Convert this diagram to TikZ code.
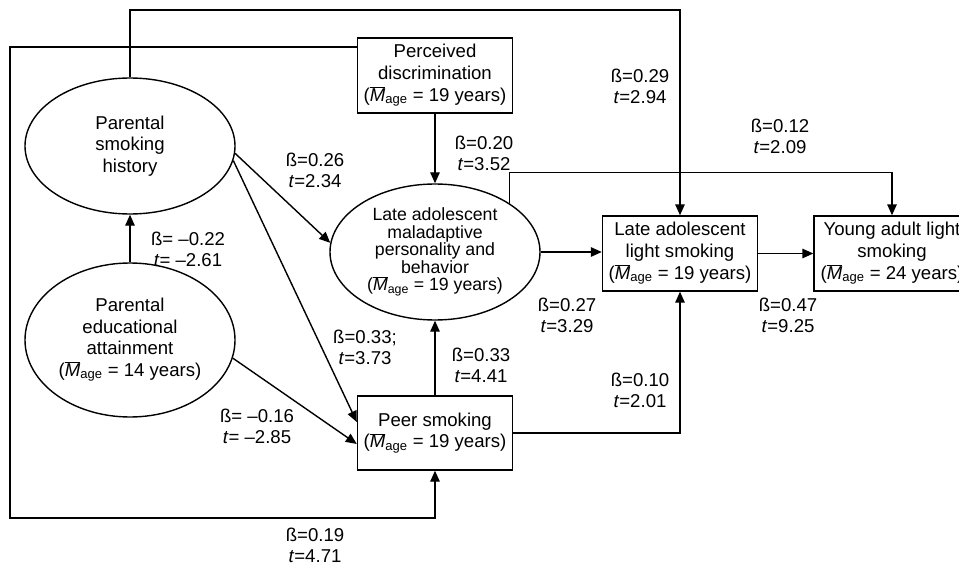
\documentclass[tikz,border=0pt]{standalone}
\usepackage{fontspec}
\setmainfont{Liberation Sans}
\usetikzlibrary{arrows.meta,shapes.geometric}
\newcommand{\mbar}{\ensuremath{\overline{\mbox{\itshape M}}}}
\newcommand{\agenote}[1]{(\mbar\textsubscript{age} = #1 years)}

\begin{document}
\begin{tikzpicture}[x=1pt,y=-1pt,
  box/.style={draw,line width=1.4pt,align=center,minimum width=155pt,minimum height=75pt,inner sep=2pt,font=\fontsize{18.6}{21.7}\selectfont},
  oval/.style={draw,ellipse,line width=1.4pt,align=center,minimum width=210pt,minimum height=136pt,inner sep=0pt,font=\fontsize{18.6}{21.5}\selectfont},
  coef/.style={align=center,inner sep=1pt,font=\fontsize{18.6}{21}\selectfont},
  arr/.style={-{Triangle[length=11pt,width=9.5pt]},line width=1.4pt}
]
\useasboundingbox (0,0) rectangle (959,567);
\node[oval] (hist) at (130,146) {Parental\\smoking\\history};
\node[oval,minimum height=154pt] (edu) at (130,340) {Parental\\educational\\attainment\\\agenote{14}};
\node[oval,font=\fontsize{17.7}{17.5}\selectfont] (mal) at (435,252) {Late adolescent\\maladaptive\\personality and\\behavior\\\agenote{19}};
\node[box] (disc) at (435,75.5) {Perceived\\discrimination\\\agenote{19}};
\node[box] (late) at (680,253.5) {Late adolescent\\light smoking\\\agenote{19}};
\node[box,minimum width=156pt] (young) at (892,253.5) {Young adult light\\smoking\\\agenote{24}};
\node[box,minimum height=74pt] (peer) at (435,433) {Peer smoking\\\agenote{19}};
\coordinate (lowleft) at (10,518);
\coordinate (topline) at (0,10);
\draw[arr] (edu) -- (hist);
\draw[arr] (hist.-4) -- (mal.175);
\draw[arr] (hist.-8) -- (peer.172);
\draw[arr] (edu.-10) -- (peer.188);
\draw[arr] (disc) -- (mal);
\draw[arr] (peer) -- (mal);
\draw[arr] (mal.east) -- (mal.east -| late.west);
\draw[arr] (late) -- (young);
\draw[arr] (peer.east) -| (late.south);
\draw[arr] (hist.north) -- (hist.north |- topline) -| (late.north);
\draw[arr] (mal.north east) -- ++(0,-31) -| (young.north);
\draw[arr] (disc.160) -| (lowleft) -| (peer.south);
\node[coef] (b29) at (640,86) {ß=0.29\\\textit{t}=2.94};
\node[coef] (b20) at (484,153) {ß=0.20\\\textit{t}=3.52};
\node[coef] (b12) at (780,136) {ß=0.12\\\textit{t}=2.09};
\node[coef] (b26) at (315,170) {ß=0.26\\\textit{t}=2.34};
\node[coef] (b22) at (188,249) {ß= –0.22\\\textit{t}= –2.61};
\node[coef] (b33a) at (365,347) {ß=0.33;\\\textit{t}=3.73};
\node[coef] (b33b) at (481,365) {ß=0.33\\\textit{t}=4.41};
\node[coef] (b27) at (567,315) {ß=0.27\\\textit{t}=3.29};
\node[coef] (b47) at (788,315) {ß=0.47\\\textit{t}=9.25};
\node[coef] (b10) at (640,390) {ß=0.10\\\textit{t}=2.01};
\node[coef] (b16) at (257,426) {ß= –0.16\\\textit{t}= –2.85};
\node[coef] (b19) at (315,545) {ß=0.19\\\textit{t}=4.71};
\end{tikzpicture}
\end{document}
